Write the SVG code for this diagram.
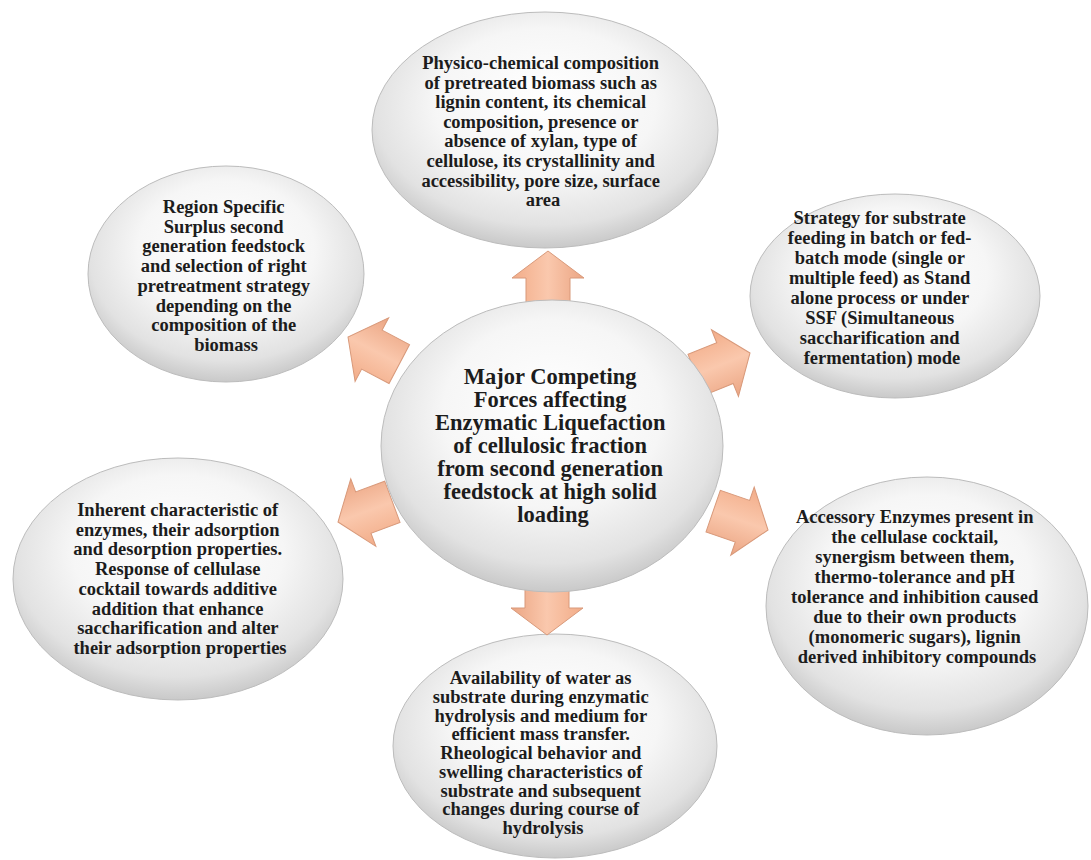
<svg xmlns="http://www.w3.org/2000/svg" width="1091" height="860" viewBox="0 0 1091 860">
  <style>
    .bubble { fill: url(#bubbleFill); stroke: #bcbcbc; stroke-width: 1; }
    .label { font-family: "Liberation Serif", "Times New Roman", serif; font-weight: bold; font-size: 18.5px; fill: #1c1c1c; text-anchor: middle; }
    .hub { font-size: 22.5px; }
    .arrow { fill: url(#arrowFill); stroke: #d8997a; stroke-width: 1; stroke-linejoin: miter; }
  </style>
  <defs>
    <radialGradient id="bubbleFill" cx="50%" cy="42%" r="58%" fx="50%" fy="35%">
      <stop offset="0" stop-color="#ffffff"/>
      <stop offset="0.55" stop-color="#f6f6f6"/>
      <stop offset="0.85" stop-color="#e2e2e2"/>
      <stop offset="1" stop-color="#c9c9c9"/>
    </radialGradient>
    <linearGradient id="arrowFill" x1="0" y1="0" x2="0" y2="1">
      <stop offset="0" stop-color="#f2ac88"/>
      <stop offset="0.5" stop-color="#fac8ad"/>
      <stop offset="1" stop-color="#eba583"/>
    </linearGradient>
    <!-- block arrow pointing along +x, tip at origin -->
    <path id="blockArrow" class="arrow" d="M0,0 L-27,-36 L-27,-22 L-58,-22 L-58,22 L-27,22 L-27,36 Z"/>
  </defs>

  <rect width="1091" height="860" fill="#ffffff"/>

  <g id="node-composition">
    <ellipse class="bubble" cx="545" cy="130" rx="173" ry="118"/>
    <text class="label" x="543" y="69">
      <tspan x="543">Physico-chemical composition</tspan>
      <tspan x="543" dy="19.6">of pretreated biomass such as</tspan>
      <tspan x="543" dy="19.6">lignin content, its chemical</tspan>
      <tspan x="543" dy="19.6">composition, presence or</tspan>
      <tspan x="543" dy="19.6">absence of xylan, type of</tspan>
      <tspan x="543" dy="19.6">cellulose, its crystallinity and</tspan>
      <tspan x="543" dy="19.6">accessibility, pore size, surface</tspan>
      <tspan x="543" dy="19.6">area</tspan>
    </text>
  </g>

  <g id="node-feedstock">
    <ellipse class="bubble" cx="226" cy="274" rx="138" ry="108"/>
    <text class="label" x="226" y="213">
      <tspan x="226">Region Specific</tspan>
      <tspan x="226" dy="19.7">Surplus second</tspan>
      <tspan x="226" dy="19.7">generation feedstock</tspan>
      <tspan x="226" dy="19.7">and selection of right</tspan>
      <tspan x="226" dy="19.7">pretreatment strategy</tspan>
      <tspan x="226" dy="19.7">depending on the</tspan>
      <tspan x="226" dy="19.7">composition of the</tspan>
      <tspan x="226" dy="19.7">biomass</tspan>
    </text>
  </g>

  <g id="node-feeding">
    <ellipse class="bubble" cx="895" cy="296" rx="145" ry="102"/>
    <text class="label" x="882" y="224">
      <tspan x="882">Strategy for substrate</tspan>
      <tspan x="882" dy="20">feeding in batch or fed-</tspan>
      <tspan x="882" dy="20">batch mode (single or</tspan>
      <tspan x="882" dy="20">multiple feed) as Stand</tspan>
      <tspan x="882" dy="20">alone process or under</tspan>
      <tspan x="882" dy="20">SSF (Simultaneous</tspan>
      <tspan x="882" dy="20">saccharification and</tspan>
      <tspan x="882" dy="20">fermentation) mode</tspan>
    </text>
  </g>

  <g id="node-enzymes">
    <ellipse class="bubble" cx="178" cy="579" rx="165" ry="121"/>
    <text class="label" x="180" y="516">
      <tspan x="180">Inherent characteristic of</tspan>
      <tspan x="180" dy="19.7">enzymes, their adsorption</tspan>
      <tspan x="180" dy="19.7">and desorption  properties.</tspan>
      <tspan x="180" dy="19.7">Response of cellulase</tspan>
      <tspan x="180" dy="19.7">cocktail towards additive</tspan>
      <tspan x="180" dy="19.7">addition that enhance</tspan>
      <tspan x="180" dy="19.7">saccharification and alter</tspan>
      <tspan x="180" dy="19.7">their adsorption properties</tspan>
    </text>
  </g>

  <g id="node-accessory">
    <ellipse class="bubble" cx="927" cy="606" rx="161" ry="129"/>
    <text class="label" x="917" y="523">
      <tspan x="917">Accessory Enzymes present in</tspan>
      <tspan x="917" dy="20">the cellulase cocktail,</tspan>
      <tspan x="917" dy="20">synergism  between them,</tspan>
      <tspan x="917" dy="20">thermo-tolerance and  pH</tspan>
      <tspan x="917" dy="20">tolerance and inhibition caused</tspan>
      <tspan x="917" dy="20">due to their own products</tspan>
      <tspan x="917" dy="20">(monomeric sugars), lignin</tspan>
      <tspan x="917" dy="20">derived inhibitory compounds</tspan>
    </text>
  </g>

  <g id="node-water">
    <ellipse class="bubble" cx="555" cy="746" rx="162" ry="112"/>
    <text class="label" x="543" y="684">
      <tspan x="543">Availability of water as</tspan>
      <tspan x="543" dy="18.75">substrate during enzymatic</tspan>
      <tspan x="543" dy="18.75">hydrolysis and medium for</tspan>
      <tspan x="543" dy="18.75">efficient mass transfer.</tspan>
      <tspan x="543" dy="18.75">Rheological behavior and</tspan>
      <tspan x="543" dy="18.75">swelling characteristics of</tspan>
      <tspan x="543" dy="18.75">substrate and subsequent</tspan>
      <tspan x="543" dy="18.75">changes during course of</tspan>
      <tspan x="543" dy="18.75">hydrolysis</tspan>
    </text>
  </g>

  <g id="connectors">
    <use href="#blockArrow" transform="translate(548,251) rotate(-90)"/>
    <use href="#blockArrow" transform="translate(750,353) rotate(-22)"/>
    <use href="#blockArrow" transform="translate(768,530) rotate(19)"/>
    <use href="#blockArrow" transform="translate(547,635) rotate(90)"/>
    <use href="#blockArrow" transform="translate(338,522) rotate(159.6)"/>
    <use href="#blockArrow" transform="translate(348,337) rotate(207.8)"/>
  </g>

  <g id="node-hub">
    <ellipse class="bubble" cx="552" cy="446" rx="171" ry="146"/>
    <text class="label hub" x="553" y="384">
      <tspan x="553">Major Competing</tspan>
      <tspan x="553" dy="23">Forces affecting</tspan>
      <tspan x="553" dy="23">Enzymatic Liquefaction</tspan>
      <tspan x="553" dy="23">of  cellulosic fraction</tspan>
      <tspan x="553" dy="23">from second generation</tspan>
      <tspan x="553" dy="23">feedstock at high solid</tspan>
      <tspan x="553" dy="23">loading</tspan>
    </text>
  </g>
</svg>
